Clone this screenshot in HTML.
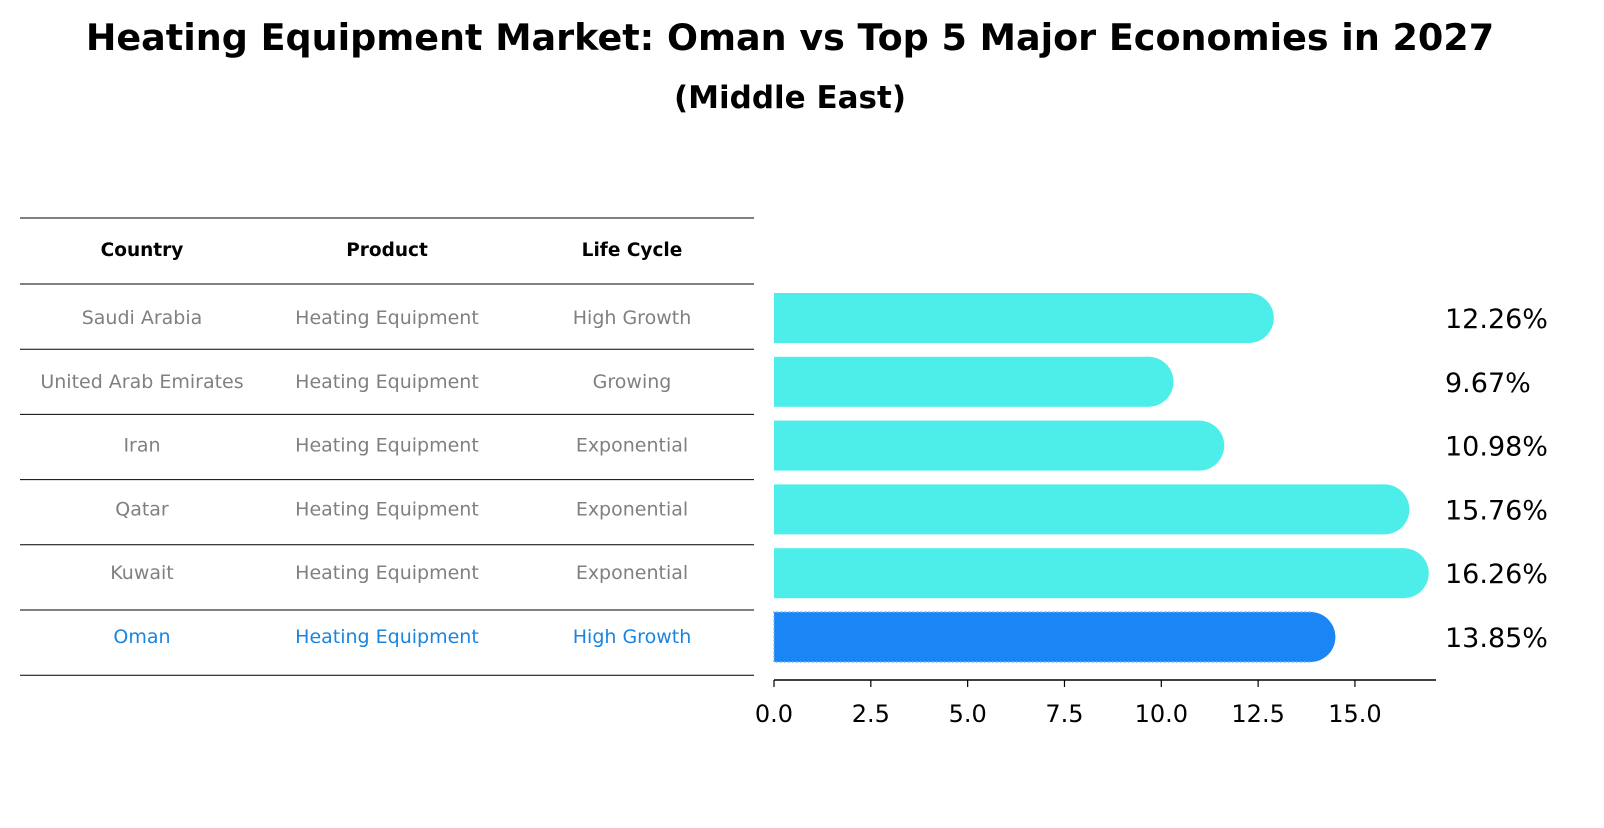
<!DOCTYPE html>
<html><head><meta charset="utf-8"><style>
body{margin:0;background:#fff;font-family:"Liberation Sans","DejaVu Sans",sans-serif;}
</style></head><body>
<svg width="1604" height="823" xmlns="http://www.w3.org/2000/svg" style="font-family:'DejaVu Sans','Liberation Sans',sans-serif">
<text x="790" y="50" text-anchor="middle" font-size="36.5" font-weight="bold">Heating Equipment Market: Oman vs Top 5 Major Economies in 2027</text>
<text x="790" y="108" text-anchor="middle" font-size="31" font-weight="bold">(Middle East)</text>
<g id="table"></g>
<g id="bars"></g>
<g id="axis"></g>
</svg>
<script>
const countries=["Saudi Arabia","United Arab Emirates","Iran","Qatar","Kuwait","Oman"];
const products=["Heating Equipment","Heating Equipment","Heating Equipment","Heating Equipment","Heating Equipment","Heating Equipment"];
const lifeCycles=["High Growth","Growing","Exponential","Exponential","Exponential","High Growth"];
const values=[12.26,9.67,10.98,15.76,16.26,13.85];
const ticks=[0,2.5,5,7.5,10,12.5,15];
const NS="http://www.w3.org/2000/svg";
const x0=774,scale=38.73;
function xs(v){return x0+v*scale;}
function yc(i){return 318+i*63.8;}
function mk(tag,attrs,parent){const e=document.createElementNS(NS,tag);for(const k in attrs)e.setAttribute(k,attrs[k]);parent.appendChild(e);return e;}
const tbl=document.getElementById('table');
const lineYs=[218,284];
for(let i=0;i<countries.length;i++)lineYs.push(284+(i+1)*65.2);
lineYs.forEach(y=>{const l=mk('line',{x1:20,x2:754,y1:y,y2:y,stroke:'#000','stroke-width':1},tbl);

});
const colX=[142,387,632];
["Country","Product","Life Cycle"].forEach((h,j)=>{const t=mk('text',{x:colX[j],y:256,'text-anchor':'middle','font-size':18.5,'font-weight':'bold'},tbl);t.textContent=h;

});
countries.forEach((c,i)=>{const y=yc(i)+2;const col=i===countries.length-1?'#1a85e0':'#808080';
[c,products[i],lifeCycles[i]].forEach((s,j)=>{const t=mk('text',{x:colX[j],y:y+4,'text-anchor':'middle','font-size':19,fill:col},tbl);t.textContent=s;

});});
const bars=document.getElementById('bars');
values.forEach((v,i)=>{const isO=i===values.length-1;const col=isO?'#1a85f5':'#4deeea';const y=yc(i);const h=50;
const g=mk('g',{},bars);


mk('rect',{x:x0,y:y-h/2,width:xs(v)-x0,height:h,fill:col},g);
mk('circle',{cx:xs(v),cy:y,r:h/2,fill:col},g);
if(isO)mk('path',{d:`M${xs(v)},${y-h/2} H${x0} V${y+h/2} H${xs(v)}`,fill:'none',stroke:'#6fb4ff','stroke-width':1.5,'stroke-dasharray':'2 2'},g);
const t=mk('text',{x:1445,y:y+10,'font-size':27},bars);t.textContent=v.toFixed(2)+'%';

});
const ax=document.getElementById('axis');
mk('line',{x1:x0,x2:1436,y1:680,y2:680,stroke:'#000','stroke-width':1.5},ax);
ticks.forEach(t=>{mk('line',{x1:xs(t),x2:xs(t),y1:680,y2:687,stroke:'#000','stroke-width':1.2},ax);
const l=mk('text',{x:xs(t),y:722,'text-anchor':'middle','font-size':24},ax);l.textContent=t.toFixed(1);

});
</script>
</body></html>
